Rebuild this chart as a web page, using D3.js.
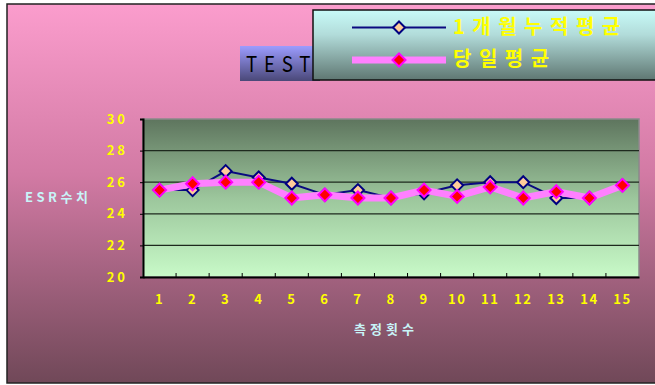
<!DOCTYPE html>
<html>
<head>
<meta charset="utf-8">
<script src="https://cdn.jsdelivr.net/npm/d3@7"></script>
<style>
  html, body { margin: 0; padding: 0; background: #ffffff; overflow: hidden; }
  svg { display: block; }
  text { font-family: "Noto Sans CJK KR", "DejaVu Sans", sans-serif; }
</style>
</head>
<body>
<svg id="chart" width="655" height="385"></svg>
<script>
// Measurement rounds and the two ESR averages
const categories = ["1","2","3","4","5","6","7","8","9","10","11","12","13","14","15"];
const monthlyAvg = [25.5, 25.5, 26.7, 26.3, 25.9, 25.2, 25.5, 25.0, 25.3, 25.8, 26.0, 26.0, 25.0, 25.0, 25.8];
const dailyAvg   = [25.5, 25.9, 26.0, 26.0, 25.0, 25.2, 25.0, 25.0, 25.5, 25.1, 25.7, 25.0, 25.4, 25.0, 25.8];
const seriesNames = ["1개월누적평균", "당일평균"];
const yTicks = [20, 22, 24, 26, 28, 30];

const svg = d3.select("#chart");
const defs = svg.append("defs");

function vGrad(id, stops) {
  const g = defs.append("linearGradient").attr("id", id)
    .attr("x1", 0).attr("y1", 0).attr("x2", 0).attr("y2", 1);
  stops.forEach(([o, c]) => g.append("stop").attr("offset", o).attr("stop-color", c));
}
vGrad("bgGrad", [[0, "#fb9dcd"], [0.45, "#d27aa4"], [1, "#704858"]]);
vGrad("plotGrad", [[0, "#5e755e"], [0.5, "#9cc69c"], [1, "#c8fac8"]]);
vGrad("titleGrad", [[0, "#9c9cff"], [1, "#4a4878"]]);
vGrad("legendGrad", [[0, "#c8fbf8"], [0.35, "#b2dcda"], [1, "#5f7772"]]);

// Chart background with frame
svg.append("rect").attr("x", 7).attr("y", 4).attr("width", 660).attr("height", 379)
  .attr("fill", "url(#bgGrad)").attr("stroke", "#222").attr("stroke-width", 1.5);

// Plot area
const plot = { left: 143, top: 119, right: 639, bottom: 277 };

const x = d3.scaleBand().domain(categories).range([plot.left, plot.right]);
const y = d3.scaleLinear().domain([20, 30]).range([plot.bottom, plot.top]);

svg.append("rect").attr("x", plot.left).attr("y", plot.top)
  .attr("width", plot.right - plot.left).attr("height", plot.bottom - plot.top)
  .attr("fill", "url(#plotGrad)").attr("stroke", "#8a8a8a").attr("stroke-width", 1.5);

// Gridlines
svg.append("g").selectAll("line").data(yTicks.filter(t => t > 20 && t < 30)).join("line")
  .attr("x1", plot.left).attr("x2", plot.right)
  .attr("y1", d => y(d)).attr("y2", d => y(d))
  .attr("stroke", "#1e2a1e").attr("stroke-width", 1.2);

// Y axis
const yAxis = svg.append("g").attr("transform", `translate(${plot.left},0)`)
  .call(d3.axisLeft(y).tickValues(yTicks).tickSize(3).tickPadding(12).tickFormat(d3.format("d")));
yAxis.select(".domain").attr("stroke", "#000").attr("stroke-width", 2);
yAxis.selectAll(".tick line").attr("stroke", "#000");
yAxis.selectAll("text").attr("fill", "#ffff00").attr("font-size", 13).attr("font-weight", "bold")
  .attr("letter-spacing", 3).attr("font-family", "Liberation Sans, Arial, sans-serif");

// X axis with inward ticks at band edges
const xAxis = svg.append("g").attr("transform", `translate(0,${plot.bottom})`)
  .call(d3.axisBottom(x).tickSize(0).tickPadding(18));
xAxis.select(".domain").attr("stroke", "#000").attr("stroke-width", 2);
xAxis.selectAll("text").attr("fill", "#ffff00").attr("font-size", 13).attr("font-weight", "bold")
  .attr("letter-spacing", 1.5).attr("font-family", "Liberation Sans, Arial, sans-serif");
svg.append("g").selectAll("line").data(categories.slice(1)).join("line")
  .attr("x1", d => x(d)).attr("x2", d => x(d))
  .attr("y1", plot.bottom).attr("y2", plot.bottom - 4)
  .attr("stroke", "#000").attr("stroke-width", 1);

const cx = d => x(d) + x.bandwidth() / 2;

function diamond(r) { return `M0,${-r}L${r},0L0,${r}L${-r},0Z`; }

// Series 1: monthly cumulative average
const line1 = d3.line().x((d, i) => cx(categories[i])).y(d => y(d));
svg.append("path").datum(monthlyAvg).attr("d", line1)
  .attr("fill", "none").attr("stroke", "#0a0a80").attr("stroke-width", 2);
svg.append("g").selectAll("path").data(monthlyAvg).join("path")
  .attr("transform", (d, i) => `translate(${cx(categories[i])},${y(d)})`)
  .attr("d", diamond(6))
  .attr("fill", "#ffcc99").attr("stroke", "#000080").attr("stroke-width", 2);

// Series 2: daily average
svg.append("path").datum(dailyAvg).attr("d", line1)
  .attr("fill", "none").attr("stroke", "#ff80ff").attr("stroke-width", 7)
  .attr("stroke-linejoin", "round");
svg.append("g").selectAll("path").data(dailyAvg).join("path")
  .attr("transform", (d, i) => `translate(${cx(categories[i])},${y(d)})`)
  .attr("d", diamond(6.5))
  .attr("fill", "#ff0000").attr("stroke", "#ff00ff").attr("stroke-width", 2);

// Axis titles
svg.append("text").attr("x", 25).attr("y", 198)
  .attr("dominant-baseline", "middle")
  .attr("fill", "#c8f4f8").attr("font-size", 13).attr("font-weight", "bold")
  .attr("letter-spacing", 3.5).text("ESR수치");
svg.append("text").attr("x", 354).attr("y", 330)
  .attr("dominant-baseline", "middle")
  .attr("fill", "#c8f4f8").attr("font-size", 13).attr("font-weight", "bold")
  .attr("letter-spacing", 4).text("측정횟수");

// Title box
svg.append("rect").attr("x", 240).attr("y", 46).attr("width", 80).attr("height", 35)
  .attr("fill", "url(#titleGrad)");
svg.append("text").attr("x", 246).attr("y", 72)
  .attr("fill", "#000").attr("font-size", 22).attr("letter-spacing", 8)
  .attr("transform", "translate(246,72) scale(0.85,1) translate(-246,-72)")
  .attr("font-family", "Liberation Sans, Arial, sans-serif").text("TEST");

// Legend
const legend = svg.append("g");
legend.append("rect").attr("x", 313).attr("y", 10).attr("width", 360).attr("height", 70)
  .attr("fill", "url(#legendGrad)").attr("stroke", "#111").attr("stroke-width", 1.5);

const legendRows = [
  { name: seriesNames[0], y: 27.5, stroke: "#0a0a80", width: 2, fill: "#ffcc99", mstroke: "#000080", r: 6 },
  { name: seriesNames[1], y: 60, stroke: "#ff80ff", width: 7, fill: "#ff0000", mstroke: "#ff00ff", r: 6.5 }
];
legendRows.forEach(row => {
  legend.append("line").attr("x1", 352).attr("x2", 446).attr("y1", row.y).attr("y2", row.y)
    .attr("stroke", row.stroke).attr("stroke-width", row.width);
  legend.append("path").attr("transform", `translate(399,${row.y})`).attr("d", diamond(row.r))
    .attr("fill", row.fill).attr("stroke", row.mstroke).attr("stroke-width", 2);
  legend.append("text").attr("x", 453).attr("y", row.y + 1).attr("dominant-baseline", "middle")
    .attr("fill", "#ffff00").attr("font-size", 20).attr("font-weight", "bold")
    .attr("letter-spacing", 7.5).text(row.name);
});
</script>
</body>
</html>
